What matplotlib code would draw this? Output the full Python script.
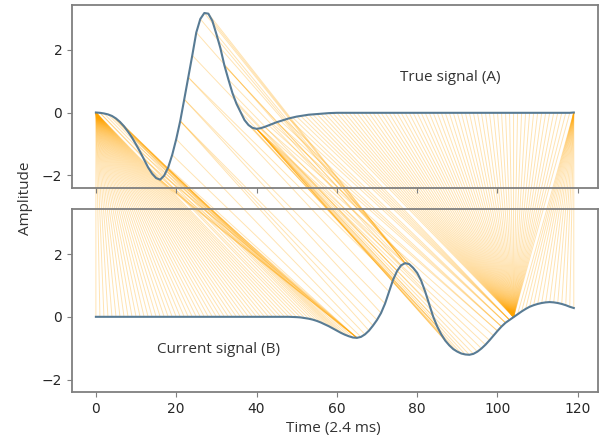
import matplotlib
matplotlib.use("Agg")
import matplotlib.pyplot as plt
from matplotlib.patches import ConnectionPatch
import numpy as np

# time index (samples of 2.4 ms)
t = np.arange(120)

# true signal (A)
sig_a = [
    0.00, -0.01, -0.03, -0.06, -0.11, -0.19, -0.30, -0.44, -0.61, -0.80,
    -1.02, -1.25, -1.50, -1.75, -1.95, -2.09, -2.14, -2.01, -1.75, -1.35,
    -0.85, -0.27, 0.42, 1.12, 1.82, 2.55, 2.98, 3.17, 3.15, 2.92,
    2.50, 2.05, 1.50, 1.05, 0.62, 0.28, 0.02, -0.24, -0.40, -0.49,
    -0.52, -0.50, -0.46, -0.41, -0.36, -0.31, -0.27, -0.23, -0.19, -0.16,
    -0.13, -0.11, -0.09, -0.07, -0.06, -0.05, -0.04, -0.03, -0.02, -0.015,
    -0.01, -0.01, -0.01, -0.01, -0.01, -0.01, -0.01, -0.01, -0.01, -0.01,
    -0.01, -0.01, -0.01, -0.01, -0.01, -0.01, -0.01, -0.01, -0.01, -0.01,
    -0.01, -0.01, -0.01, -0.01, -0.01, -0.01, -0.01, -0.01, -0.01, -0.01,
    -0.01, -0.01, -0.01, -0.01, -0.01, -0.01, -0.01, -0.01, -0.01, -0.01,
    -0.01, -0.01, -0.01, -0.01, -0.01, -0.01, -0.01, -0.01, -0.01, -0.01,
    -0.01, -0.01, -0.01, -0.01, -0.01, -0.01, -0.01, -0.01, -0.01, 0.00,
]

# current signal (B)
sig_b = [
    0.00, 0.00, 0.00, 0.00, 0.00, 0.00, 0.00, 0.00, 0.00, 0.00,
    0.00, 0.00, 0.00, 0.00, 0.00, 0.00, 0.00, 0.00, 0.00, 0.00,
    0.00, 0.00, 0.00, 0.00, 0.00, 0.00, 0.00, 0.00, 0.00, 0.00,
    0.00, 0.00, 0.00, 0.00, 0.00, 0.00, 0.00, 0.00, 0.00, 0.00,
    0.00, 0.00, 0.00, 0.00, 0.00, 0.00, 0.00, 0.00, 0.00, -0.005,
    -0.01, -0.02, -0.04, -0.06, -0.09, -0.13, -0.18, -0.24, -0.30, -0.37,
    -0.44, -0.51, -0.57, -0.62, -0.66, -0.67, -0.64, -0.56, -0.44, -0.28,
    -0.10, 0.12, 0.42, 0.80, 1.18, 1.46, 1.64, 1.71, 1.68, 1.56,
    1.40, 1.15, 0.80, 0.40, 0.00, -0.31, -0.56, -0.76, -0.91, -1.03,
    -1.11, -1.17, -1.20, -1.21, -1.18, -1.11, -1.01, -0.89, -0.75, -0.60,
    -0.45, -0.31, -0.19, -0.10, -0.01, 0.08, 0.17, 0.25, 0.32, 0.37,
    0.41, 0.44, 0.46, 0.47, 0.46, 0.44, 0.41, 0.37, 0.32, 0.28,
]

x_ticks = [0, 20, 40, 60, 80, 100, 120]
y_ticks = [-2, 0, 2]


def dtw_path(a, b):
    """Plain DTW with absolute distance, returns list of (i, j) pairs."""
    a = np.asarray(a)
    b = np.asarray(b)
    n, m = len(a), len(b)
    cost = np.abs(a[:, None] - b[None, :])
    acc = np.full((n + 1, m + 1), np.inf)
    acc[0, 0] = 0.0
    for i in range(1, n + 1):
        for j in range(1, m + 1):
            acc[i, j] = cost[i - 1, j - 1] + min(
                acc[i - 1, j - 1], acc[i - 1, j], acc[i, j - 1]
            )
    i, j = n, m
    path = [(i - 1, j - 1)]
    while i > 1 or j > 1:
        steps = [(acc[i - 1, j - 1], i - 1, j - 1),
                 (acc[i - 1, j], i - 1, j),
                 (acc[i, j - 1], i, j - 1)]
        _, i, j = min(steps, key=lambda s: s[0])
        path.append((i - 1, j - 1))
    return path[::-1]


fig = plt.figure(figsize=(6.01, 4.41), dpi=100)
ax1 = fig.add_axes([0.1198, 0.5737, 0.8747, 0.4157])
ax2 = fig.add_axes([0.1198, 0.1104, 0.8747, 0.4157], sharex=ax1, sharey=ax1)

line_col = "#587b94"
spine_col = "#7f7f7f"
for ax in (ax1, ax2):
    ax.set_facecolor("none")
    for s in ax.spines.values():
        s.set_color(spine_col)
        s.set_linewidth(1.3)
    ax.tick_params(colors=spine_col, labelcolor="#262626", labelsize=10)

ax1.plot(t, sig_a, color=line_col, lw=1.5, zorder=3)
ax2.plot(t, sig_b, color=line_col, lw=1.5, zorder=3)
ax2.set_xticks(x_ticks)
ax2.set_yticks(y_ticks)
plt.setp(ax1.get_xticklabels(), visible=False)

# warping connections between the two panels
for i, j in dtw_path(sig_a, sig_b):
    con = ConnectionPatch(xyA=(t[i], sig_a[i]), coordsA=ax1.transData,
                          xyB=(t[j], sig_b[j]), coordsB=ax2.transData,
                          color="orange", alpha=0.3, lw=0.7, zorder=-1)
    fig.add_artist(con)

txt = dict(family=["Open Sans", "DejaVu Sans"], size=11, color="#333333")
ax1.text(88.3, 1.12, "True signal (A)", ha="center", va="center", **txt)
ax2.text(30.6, -1.05, "Current signal (B)", ha="center", va="center", **txt)
fig.text(0.0416, 0.551, "Amplitude", rotation=90, ha="center", va="center", **txt)
fig.text(0.554, 0.029, "Time (2.4 ms)", ha="center", va="center", **txt)

fig.savefig("out.png", dpi=100)
